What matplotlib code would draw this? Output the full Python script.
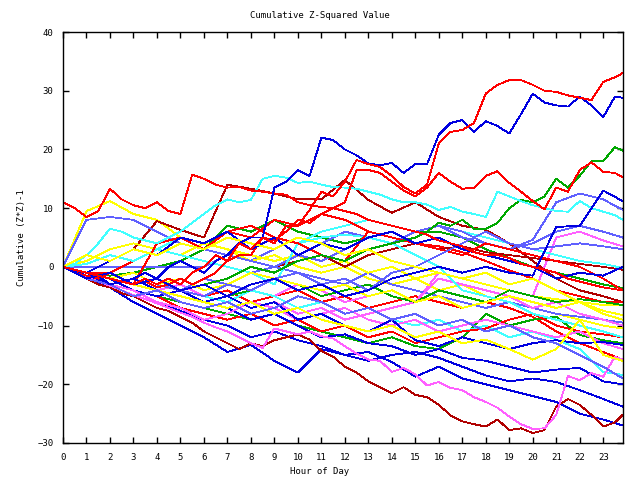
import numpy as np
import matplotlib
matplotlib.use('Agg')
import matplotlib.pyplot as plt

plt.rcParams['font.family'] = ['DejaVu Sans Mono']

# hour grids (half-hourly for the traced lines, hourly for the rest)
hours_fine = np.append(np.arange(0, 24, 0.5), 23.83)
hours = np.append(np.arange(0, 24), 23.83)

RED, DRED, GREEN, BLUE = '#ff0000', '#b00000', '#00a800', '#0000e0'
SLATE, MAG, CYAN, YEL = '#6060ff', '#ff60ff', '#40ffff', '#ffff00'

# traced lines, half-hourly
red_a = [0, -0.5, -1, -1.5, -2, -2.5, -3, -2, -3, -2,
         -3, -1, 0, 2, 1, 4, 3, 5, 4, 7,
         7, 9.7, 12.8, 12, 14.5, 18.2, 17.5, 17, 15.5, 13.6,
         12.5, 14, 21, 23, 23.3, 24.5, 29.5, 31, 31.8, 31.8,
         31, 30, 29.8, 29.2, 28.8, 28.4, 31.5, 32.3, 33]
blue_b = [0, -1, -2, -1.5, -3, -2.5, -2, -1, -2, 0,
          1, 0, -1, 1, 2, 4, 5, 5, 13.5, 14.5,
          16.5, 15.5, 22, 21.6, 20, 19, 17.6, 17.3, 17.7, 16,
          17.5, 17.5, 22.5, 24.5, 25, 23, 24.8, 24, 22.7, 26,
          29.5, 28, 27.5, 27.3, 29, 27.5, 25.5, 29, 28.8]
red_c = [0, -1, -1.5, -2, -1, -2, -3, -2.5, -3.5, -3,
         -2, -3, -2, -1, 1, 2, 2, 5, 4.5, 6,
         8, 7.5, 9, 10, 11, 16.5, 16.5, 16, 14.5, 13,
         12, 13.5, 16, 14.5, 13.3, 13.5, 15.5, 16.3, 14.3, 12.8,
         11.2, 9.8, 13.5, 12.8, 16.5, 17.8, 16.2, 16, 15.3]
red_0 = [11, 10, 8.5, 9.5, 13.3, 11.5, 10.5, 10, 11, 9.5,
         9, 15.7, 15, 14, 13.5, 13.6, 13, 12.8, 12.5, 12.3,
         11, 10.5, 10.2, 10, 9.5, 9, 8, 7.5, 7, 6.5,
         6, 5.5, 4.5, 4, 3.5, 2.5, 2, 2, 1.5, 0.5,
         0, -0.5, -1, -2, -2.5, -3, -3.5, -3.8, -4]
green_d = [0, -0.5, -1, -1.5, -2, -2.5, -3, -2.5, -2, -3,
           -4, -3.5, -3, -2.5, -2, -1, 0, -0.5, -1, 0,
           1, 1.5, 2, 1.5, 1, 2, 3, 3.5, 4, 4.5,
           5, 6, 7.5, 7, 8, 6.5, 6.5, 7.5, 10, 11.4,
           11, 12, 15, 13.5, 15.5, 18, 18, 20.4, 19.8]
dred_e = [0, -1, -2, -3, -3.5, -4.5, -5, -6, -7, -7.5,
          -8.5, -9.5, -11, -12, -13, -14, -13, -13.5, -12.5, -12,
          -11.5, -12.4, -14.3, -15.3, -17, -18, -19.5, -20.5, -21.5, -20.5,
          -21.8, -22.2, -23.5, -25.3, -26.3, -26.8, -27.2, -26, -27.8, -27.5,
          -28.3, -27.8, -23.8, -22.5, -23.5, -25.2, -27.2, -26.5, -25.2]
mag_f = [0, -1, -1.8, -2.5, -3.2, -4, -4.8, -5.5, -6.2, -7,
         -7.8, -8.5, -9.5, -10.3, -11, -12, -13, -13.8, -10.5, -11,
         -11.5, -11, -11.8, -12.2, -13.5, -14.8, -15.8, -16, -17.9, -17.2,
         -18.3, -20.2, -19.6, -20.6, -21, -22.2, -23, -24, -25.5, -26.8,
         -27.6, -27.5, -25.2, -18.6, -19.3, -18.1, -18.7, -15.3, -15.8]
cyan_1 = [0, 0.5, 2, 4, 6.5, 6, 5, 4.5, 4, 5,
          6, 7.5, 9, 10.5, 11.5, 11, 11.4, 15, 15.5, 15.2,
          14.3, 14.5, 14, 13.6, 13.5, 13.3, 12.8, 12.3, 11.5, 11,
          11, 10.6, 9.7, 10.2, 9.4, 9, 8.5, 12.8, 12, 11.2,
          10.5, 10, 9.5, 9.4, 11.2, 10, 9.4, 8.8, 8]

# the rest, hourly
blue_1 = [0, -2, -3.5, -6, -8, -10, -12, -14.5, -13.3, -16, -18, -14, -15, -14.5, -16.2,
          -18.7, -17, -19, -20, -21, -22, -23, -25, -26, -27]
blue_2 = [0, -1.5, -3, -4, -6, -7.5, -9, -10, -12, -11, -12.5, -13.5, -15, -16, -15,
          -14.5, -15.5, -17, -18.5, -19.5, -19, -19.6, -21, -22.5, -23.8]
blue_3 = [0, -1, -2, -4, -5, -4, -6, -7, -9, -8, -10, -12, -11.5, -13, -13.5,
          -15, -14, -15.5, -16, -17, -18, -17.5, -17.2, -19.5, -20]
blue_4 = [0, -1, -3, -2, -4, -5, -6, -5, -7, -6, -9, -8, -10, -11, -9,
          -12.5, -13.5, -12, -13, -14, -13, -12.5, -13, -12.8, -13.3]
blue_5 = [0, -1, 1, 3, 2, 5, 4, 6, 3, 5, 2, 4, 3, 5, 6, 4, 5, 3, 2, 1, 0, -2, -1, -1.5, 0]
blue_6 = [0, -2, -1, -3, -2, -4, -3, -5, -3, -2, -4, -3, -5, -4, -2,
          -1, 0, -1, 0, -1, -1.5, 6.8, 7, 13, 11.2]
slate_0 = [0, 0, 0, 0, 0, 0, 0, 2, 1, 3, 5, 4, 6, 5, 4, 6, 7, 5, 4, 3, 4, 6, 7, 6, 5]
slate_1 = [0, 8, 8.5, 8, 6, 4, 3, 2, 1, 0, -1, -2, -3, -1, -3,
           -4, -5, -6, -7, -6, -7, -8, -8.5, -9, -9.5]
slate_2 = [0, -1, -2, -1, -3, -4, -2, -3, -1, 0, 2, 1, 3, 5, 4,
           6, 7, 6, 4, 3, 4.6, 11, 12.5, 11.5, 9.7]
slate_3 = [0, -1, -2, -3, -2, -4, -5, -3, -4, -2, -1, -3, -2, -4, -1,
           0, 2, 4, 6, 4, 3, 3.5, 4, 3.5, 3]
slate_4 = [0, -2, -3, -5, -4, -6, -7, -6, -8, -7, -5, -6, -8, -7, -9,
           -8, -10, -9, -11, -10, -12, -13, -15, -17, -19]
mag_1 = [0, -1, -2, -3, -4, -5, -6, -5, -7, -6, -8, -7, -9, -8, -7,
         -6, -1, -2, -3, -4, -5, 5, 6, 4.5, 3.5]
mag_2 = [0, -1, -2, -3, -4, -3, -5, -6, -4, -5, -3, -4, -6, -5, -4,
         -6, -2, -3, -4, -5, -7, -6, -8, -9, -10]
mag_3 = [0, -1, -3, -4, -6, -7, -9, -8, -6, -7, -9, -8, -7, -9, -10,
         -9, -11, -10, -9, -10, -11, -12, -11, -13, -14]
cyan_2 = [0, 1, 3, 4, 3, 5, 4, 6, 7, 5, 4, 6, 7, 8, 7, 6, 7, 6, 5, 4, 3, 2, 1, 0.5, -0.2]
cyan_3 = [0, -1, -2, -3, -2, -4, -5, -6, -4, -5, -7, -6, -8, -7, -9,
          -10, -9, -11, -10, -12, -11, -12.4, -14, -17.9, -18.4]
cyan_4 = [0, 0.5, 2, 1, 3, 2, 1, 0, -1, -3, 4, 5, 5.5, 5, 4,
          2, 0, -4, -5, -6, -8, -9, -10, -11, -12]
yel_1 = [0, 9.5, 11.2, 9, 8, 5, 4, 3, 1, 2, 0, -1, 0, -2, -3,
         -2, -4, -3, -5, -6, -7, -8, -9, -10, -10.5]
yel_2 = [0, 1, 3, 4, 3, 2, 4, 3, 2, 1, 2, 0, 1, -1, 0,
         -2, -1, -2, -3, -4, -5, -5.5, -6, -6.5, -6.5]
yel_3 = [0, -1, -2, -1, -3, -2, -4, -3, -1, -2, -3, -4, -3, -5, -4,
         -6, -5, -7, -6, -5, -6, -7, -6, -7.5, -8.2]
yel_4 = [0, -1, -2, -3, -4, -5, -6, -7, -6, -8, -7, -9, -10, -11, -10,
         -12, -11, -13, -12.4, -14, -15.8, -14, -9, -15, -16]
yel_5 = [0, 2, 1, 3, 2, 4, 3, 5, 4, 3, 5, 4, 2, 3, 1, 0, -1, -2, -1, -3, -2, -4, -6, -8, -9]
green_2 = [0, -1, -1.5, -1, 0, 1, 3, 7, 6, 8, 6, 5, 4, 5, 4, 6, 6, 5, 3, 1.5, 0, -1, -2, -3, -3.6]
green_3 = [0, -2, -3, -4, -5, -6, -7, -8, -9, -8, -10, -11, -12, -13, -12,
           -13.5, -14, -12, -8, -10, -9, -8.5, -11.6, -12.5, -13]
green_4 = [0, -1, -2, -1, -3, -4, -3, -5, -4, -2, -3, -5, -4, -3, -5,
           -6, -4, -5, -6, -4, -5, -6, -5.5, -6, -6.5]
red_1 = [0, -1, -2, -3, -4, -3, -5, -4, -6, -5, -4, -6, -5, -7, -6,
         -5, -6, -7, -6, -7, -8.5, -11, -13, -14.5, -15.8]
red_2 = [0, -1, -1, 1, 3, 2, 4, 6, 5, 8, 7, 9, 8, 6, 5, 4, 3.5, 2.5, 1, -0.6, -2, -4, -5, -6, -6]
red_3 = [0, -1, -3, -4, -5, -7, -8, -9, -8, -10, -9, -11, -10, -12, -11,
         -13, -12, -11, -10.5, -9, -8, -10, -11, -11.5, -12]
red_4 = [0, -1, -2, -3, 4, 5, 3, 6, 7, 5, 4, 2, 1, 6, 5, 4, 3, 2, 4, 3, 2, 1, 0, -2, -4]
dred_1 = [0, -1, 1, 3, 7.8, 6.3, 5, 14, 13.3, 12.5, 11.5, 11.5, 14.8, 11.4, 9.2,
          11, 8.5, 7, 6.3, 4, 1, -2, -4, -5, -6]
dred_2 = [0, -1, -2, -1, -3, -2, -4, -3, -1, 0, 1, 2, 0, 2, 3, 4, 3, 3.5, 2.5, 2, 1.5, 1, 0.5, 0, -0.5]

series = [
    (hours, red_1, RED), (hours, green_2, GREEN), (hours, blue_1, BLUE),
    (hours, slate_0, SLATE), (hours, mag_1, MAG), (hours, cyan_2, CYAN),
    (hours, yel_1, YEL), (hours, dred_1, DRED),
    (hours, red_2, RED), (hours, green_3, GREEN), (hours, blue_2, BLUE),
    (hours, slate_1, SLATE), (hours, mag_2, MAG), (hours, cyan_3, CYAN),
    (hours, yel_2, YEL), (hours, dred_2, DRED),
    (hours, red_3, RED), (hours, green_4, GREEN), (hours, blue_3, BLUE),
    (hours, slate_2, SLATE), (hours, mag_3, MAG), (hours, cyan_4, CYAN),
    (hours, yel_3, YEL), (hours_fine, dred_e, DRED),
    (hours, red_4, RED), (hours_fine, green_d, GREEN), (hours, blue_4, BLUE),
    (hours, slate_3, SLATE), (hours_fine, mag_f, MAG), (hours_fine, cyan_1, CYAN),
    (hours, yel_4, YEL), (hours_fine, red_c, RED), (hours, blue_5, BLUE),
    (hours, slate_4, SLATE), (hours, yel_5, YEL), (hours, blue_6, BLUE),
    (hours_fine, red_0, RED), (hours_fine, blue_b, BLUE), (hours_fine, red_a, RED),
]

fig = plt.figure(figsize=(6.4, 4.8), dpi=100)
ax = fig.add_axes([63 / 640, 37 / 480, 559.7 / 640, 411 / 480])

for x, y, c in series:
    ax.plot(x, y, color=c, lw=0.6, antialiased=False)

ax.set_xlim(0, 23.83)
ax.set_ylim(-30, 40)
ax.set_xticks(range(24))
ax.set_yticks(range(-30, 41, 10))
ax.tick_params(direction='in', top=True, right=True, length=4, width=1,
               labelsize=6.5, pad=7)
for s in ax.spines.values():
    s.set_linewidth(1)

fig.text(0.5, 1 - 16 / 480, 'Cumulative Z-Squared Value', ha='center', va='center', fontsize=6.5)
fig.text(0.5, 1 - 471 / 480, 'Hour of Day', ha='center', va='center', fontsize=6.5)
fig.text(22 / 640, 1 - 238 / 480, 'Cumulative (Z*Z)-1', ha='center', va='center',
         rotation=90, fontsize=6.5)

fig.savefig('out.png', dpi=100)
